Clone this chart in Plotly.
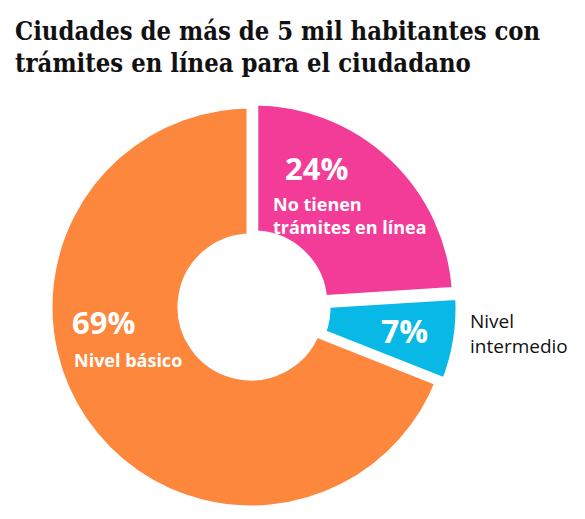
import plotly.graph_objects as go

W, H = 585, 519

categories = ["No tienen trámites en línea", "Nivel intermedio", "Nivel básico"]
values = [24, 7, 69]
colors = ["#F23C98", "#08B8E6", "#FD873D"]
pulls = [0.02, 0.03, 0.0]

title_lines = ["Ciudades de más de 5 mil habitantes con", "trámites en línea para el ciudadano"]

def px(x):
    return x / W

def py(y):
    return 1 - y / H

fig = go.Figure()

# pie geometry (pixels)
cx, cy, R = 251, 307, 203
maxpull = max(pulls)
Rd = R * (1 + maxpull)

fig.add_trace(go.Pie(
    labels=categories,
    values=values,
    sort=False,
    direction="clockwise",
    rotation=0,
    hole=0.34,
    pull=pulls,
    textinfo="none",
    hoverinfo="label+percent",
    marker=dict(colors=colors, line=dict(color="white", width=9)),
    domain=dict(x=[px(cx - Rd), px(cx + Rd)], y=[py(cy + Rd), py(cy - Rd)]),
    showlegend=False,
))

pct = [f"{v}%" for v in values]
sans = "Open Sans"
serif = "DejaVu Serif Condensed"

ann = []
# Title (two lines)
ann.append(dict(x=px(13), y=py(31), xref="paper", yref="paper", xanchor="left", yanchor="middle",
                text="<b>" + title_lines[0] + "</b>", align="left",
                showarrow=False, font=dict(family=serif, size=25.4, color="#111111")))
ann.append(dict(x=px(13), y=py(63), xref="paper", yref="paper", xanchor="left", yanchor="middle",
                text="<b>" + title_lines[1] + "</b>", align="left",
                showarrow=False, font=dict(family=serif, size=25.4, color="#111111")))
# Pink slice labels
ann.append(dict(x=px(283), y=py(168), xref="paper", yref="paper", xanchor="left", yanchor="middle",
                text="<b>" + pct[0] + "</b>", showarrow=False,
                font=dict(family=sans, size=31, color="white")))
ann.append(dict(x=px(271), y=py(215), xref="paper", yref="paper", xanchor="left", yanchor="middle",
                text="<b>No tienen<br>trámites en línea</b>", align="left", showarrow=False,
                font=dict(family=sans, size=18, color="white")))
# Cyan slice label
ann.append(dict(x=px(404), y=py(330), xref="paper", yref="paper", xanchor="center", yanchor="middle",
                text="<b>" + pct[1] + "</b>", showarrow=False,
                font=dict(family=sans, size=32, color="white")))
ann.append(dict(x=px(468), y=py(333), xref="paper", yref="paper", xanchor="left", yanchor="middle",
                text="Nivel<br>intermedio", align="left", showarrow=False,
                font=dict(family=sans, size=19, color="#111111")))
# Orange slice labels
ann.append(dict(x=px(70), y=py(322), xref="paper", yref="paper", xanchor="left", yanchor="middle",
                text="<b>" + pct[2] + "</b>", showarrow=False,
                font=dict(family=sans, size=31, color="white")))
ann.append(dict(x=px(72), y=py(360), xref="paper", yref="paper", xanchor="left", yanchor="middle",
                text="<b>Nivel básico</b>", showarrow=False,
                font=dict(family=sans, size=18, color="white")))

fig.update_layout(
    width=W, height=H,
    margin=dict(l=0, r=0, t=0, b=0),
    paper_bgcolor="white", plot_bgcolor="white",
    annotations=ann,
)

fig.write_html("out.html")
